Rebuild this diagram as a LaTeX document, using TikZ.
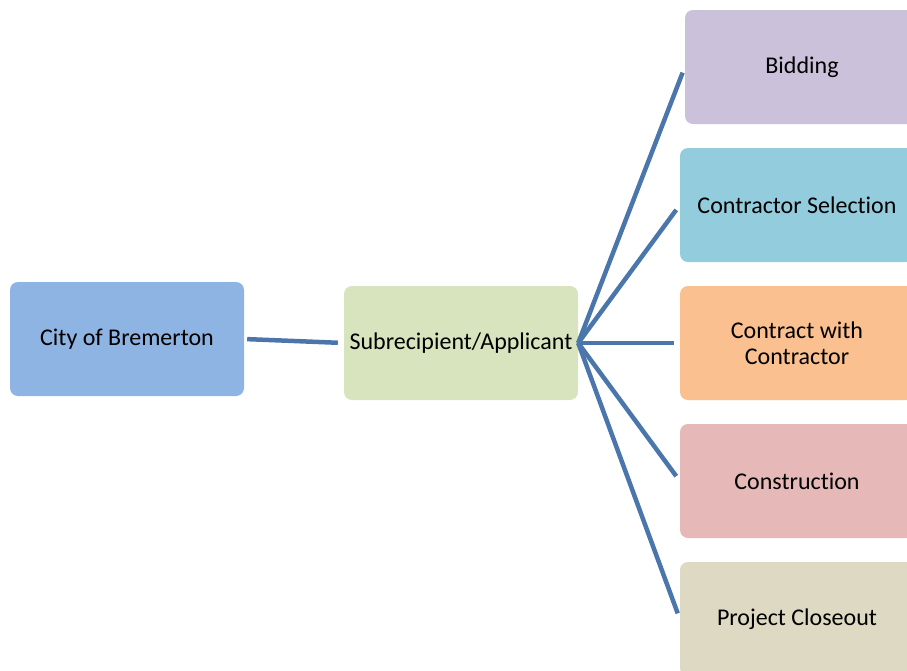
\documentclass[tikz,border=0pt]{standalone}
\usepackage{fontspec}
\setmainfont{Carlito}[Ligatures=NoCommon]
\definecolor{cityblue}{HTML}{8EB4E3}
\definecolor{subgreen}{HTML}{D7E4BD}
\definecolor{bidlilac}{HTML}{CCC1DA}
\definecolor{selcyan}{HTML}{93CDDD}
\definecolor{conorange}{HTML}{FAC090}
\definecolor{buildpink}{HTML}{E6B9B8}
\definecolor{closetan}{HTML}{DDD9C3}
\definecolor{linkblue}{HTML}{4A76AB}
\begin{document}
\begin{tikzpicture}[x=1pt,y=-1pt,
    box/.style={rounded corners=8pt,minimum width=234pt,minimum height=114pt,
        inner sep=2pt,align=center,font=\fontsize{24}{26}\selectfont},
    link/.style={linkblue,line width=4.5pt}]
    \useasboundingbox (0,0) rectangle (907,670);
    \path (127,339) node[box,fill=cityblue] (city) {City of Bremerton};
    \path (461,343) node[box,fill=subgreen] (sub) {Subrecipient/Applicant};
    \path (802,67) node[box,fill=bidlilac] (bid) {Bidding};
    \path (797,205) node[box,fill=selcyan] (sel) {Contractor Selection};
    \path (797,343) node[box,fill=conorange] (con) {Contract with\\Contractor};
    \path (797,481) node[box,fill=buildpink] (build) {Construction};
    \path (797,619) node[box,fill=closetan] (close) {Project Closeout};
    \draw [link,shorten <=3pt,shorten >=6pt] (city.east) -- (sub.west);
    \draw [link,shorten >=6pt] (sub.east) -- (bid.west);
    \draw [link,shorten >=6pt] (sub.east) -- (sel.west);
    \draw [link,shorten >=6pt] (sub.east) -- (con.west);
    \draw [link,shorten >=6pt] (sub.east) -- (build.west);
    \draw [link,shorten >=6pt] (sub.east) -- (close.west);
\end{tikzpicture}
\end{document}
